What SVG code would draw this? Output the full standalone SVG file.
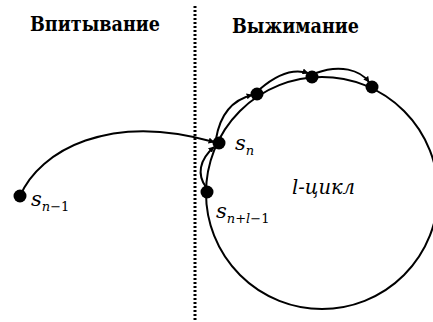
<svg xmlns="http://www.w3.org/2000/svg" width="433" height="322" viewBox="0 0 433 322">
<style>
.t{font-weight:bold;font-size:20px;fill:#000}
.s{font-style:italic;font-size:21px;fill:#000}
.sub{font-size:13px}
.up{font-style:normal}
.ln{fill:none;stroke:#000;stroke-width:2}
.arr{fill:none;stroke:#000;stroke-width:2;marker-end:url(#ah)}
.dot{fill:#000}
</style>
<defs>
<marker id="ah" viewBox="0 0 10 10" refX="9" refY="5" markerWidth="6" markerHeight="6" orient="auto" markerUnits="userSpaceOnUse">
<path d="M0,0 L10,5 L0,10 z" fill="#000"/>
</marker>
</defs>
<rect width="433" height="322" fill="#fff"/>
<g font-family="'DejaVu Serif', serif">
<text class="t" x="30" y="31" textLength="130" lengthAdjust="spacingAndGlyphs">Впитывание</text>
<text class="t" x="232" y="33" textLength="127" lengthAdjust="spacingAndGlyphs">Выжимание</text>
</g>
<line x1="195" y1="6" x2="195" y2="322" stroke="#000" stroke-width="3" stroke-dasharray="2,2"/>
<g id="cycle">
<circle class="ln" cx="322" cy="193" r="116"/>
</g>
<g id="connectors">
<path class="arr" d="M20,196 C40,150 110,112 214,142"/>
<path class="arr" d="M206,187 C197,175 199,160 214,147"/>
<path class="arr" d="M216,139 C220,115 232,100 252,95"/>
<path class="arr" d="M260,89 C275,76 292,68 308,73"/>
<path class="arr" d="M316,73 C340,64 360,70 369,82"/>
</g>
<g font-family="'DejaVu Serif', serif">
<g id="s_n_minus_1"><circle class="dot" cx="20" cy="196" r="6.5"/><text class="s" x="31" y="206">s<tspan class="sub" dy="5">n<tspan class="up">−1</tspan></tspan></text></g>
<g id="s_n"><circle class="dot" cx="219" cy="143" r="6.5"/><text class="s" x="235" y="150">s<tspan class="sub" dy="5">n</tspan></text></g>
<g id="s_n_l_1"><circle class="dot" cx="207" cy="192" r="6.5"/><text class="s" x="216" y="218">s<tspan class="sub" dy="5">n<tspan class="up">+</tspan>l<tspan class="up">−1</tspan></tspan></text></g>
<g id="p1"><circle class="dot" cx="257" cy="94" r="6.5"/></g>
<g id="p2"><circle class="dot" cx="312" cy="77" r="6.5"/></g>
<g id="p3"><circle class="dot" cx="372" cy="87" r="6.5"/></g>
<text class="s" x="292" y="194" textLength="63" lengthAdjust="spacingAndGlyphs">l-цикл</text>
</g>
</svg>
